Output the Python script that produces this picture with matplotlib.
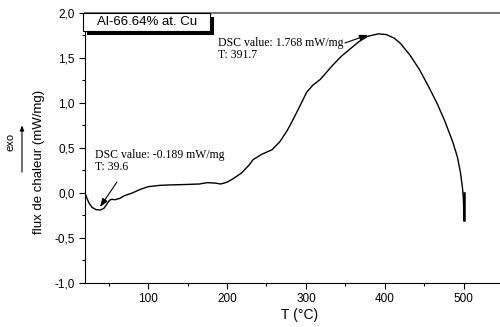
import matplotlib
matplotlib.use("Agg")
import matplotlib.pyplot as plt
from matplotlib.patches import Rectangle, FancyArrowPatch
from matplotlib.ticker import MultipleLocator, FuncFormatter

# DSC curve, Al-66.64% at. Cu
temperature = [20, 22, 25, 29, 34, 39.6, 44, 48, 51, 54, 58, 64, 70, 80, 90, 100,
               115, 130, 150, 165, 175, 185, 192, 200, 208, 218, 228, 233, 244,
               257, 267, 276, 284, 292, 301, 309, 318, 326, 334, 345, 356, 367,
               378, 391.7, 402, 412, 420, 432, 444, 455, 466, 476, 486, 492, 496,
               498.5, 499.5, 500, 500]
heat_flux = [0.0, -0.05, -0.11, -0.16, -0.185, -0.189, -0.17, -0.12, -0.08, -0.07,
             -0.075, -0.06, -0.03, 0.0, 0.04, 0.07, 0.085, 0.09, 0.095, 0.10,
             0.115, 0.11, 0.10, 0.12, 0.16, 0.22, 0.31, 0.37, 0.43, 0.48, 0.57,
             0.69, 0.82, 0.96, 1.12, 1.20, 1.26, 1.34, 1.42, 1.52, 1.60, 1.68,
             1.74, 1.768, 1.76, 1.72, 1.66, 1.53, 1.37, 1.19, 1.0, 0.80, 0.57,
             0.40, 0.22, 0.05, -0.05, -0.2, -0.3]

legend_label = "Al-66.64% at. Cu"
min_label = "DSC value: -0.189 mW/mg\nT: 39.6"
max_label = "DSC value: 1.768 mW/mg\nT: 391.7"

sans = "Liberation Sans"
serif = "Liberation Serif"

fig = plt.figure(figsize=(5, 3.27), dpi=100)
ax = fig.add_axes([0.17, 0.1346, 0.86, 0.8257])

ax.plot(temperature, heat_flux, color="black", lw=1.0)
ax.plot([500, 500], [0.0, -0.3], color="black", lw=1.8)

ax.set_xlim(20, 565)
ax.set_ylim(-1.0, 2.0)
ax.xaxis.set_major_locator(MultipleLocator(100))
ax.xaxis.set_minor_locator(MultipleLocator(50))
ax.yaxis.set_major_locator(MultipleLocator(0.5))
ax.yaxis.set_minor_locator(MultipleLocator(0.25))
ax.yaxis.set_major_formatter(FuncFormatter(lambda v, p: f"{v:.1f}".replace(".", ",")))
ax.tick_params(which="both", direction="out", width=0.8, labelsize=8.5)
ax.tick_params(which="major", length=4)
ax.tick_params(which="minor", length=2.5)
for lab in ax.get_xticklabels() + ax.get_yticklabels():
    lab.set_fontfamily(sans)

ax.spines["right"].set_visible(False)
ax.spines["top"].set_color("#777777")
ax.spines["top"].set_linewidth(1.5)

ax.set_xlabel("T (°C)", fontsize=10, fontfamily=sans, labelpad=2)
fig.text(0.078, 0.505, "flux de chaleur (mW/mg)", rotation=90, fontsize=9.5,
         fontfamily=sans, ha="center", va="center")
fig.text(0.022, 0.565, "exo", rotation=90, fontsize=8, fontfamily=sans,
         ha="center", va="center")
fig.patches.append(FancyArrowPatch(
    (0.044, 0.465), (0.044, 0.625), transform=fig.transFigure,
    arrowstyle="-|>,head_length=3,head_width=1.2", color="black", lw=0.8))

# legend box with drop shadow
fig.patches.append(Rectangle((0.174, 0.893), 0.254, 0.055, transform=fig.transFigure,
                             fc="black", ec="none", zorder=1))
fig.patches.append(Rectangle((0.166, 0.905), 0.254, 0.055, transform=fig.transFigure,
                             fc="white", ec="black", lw=0.8, zorder=2))
fig.text(0.194, 0.932, legend_label, fontsize=9.5, fontfamily=sans,
         ha="left", va="center", zorder=3)

# peak annotations
ax.text(32.7, 0.255, min_label, fontsize=8.5, fontfamily=serif,
        ha="left", va="baseline", linespacing=1.05)
ax.text(188.6, 1.5, max_label, fontsize=8.5, fontfamily=serif,
        ha="left", va="baseline", linespacing=1.05)
arrow_style = dict(arrowstyle="-|>,head_length=0.5,head_width=0.18",
                   color="black", lw=0.8, shrinkA=0, shrinkB=0)
ax.annotate("", xy=(39.0, -0.156), xytext=(60.5, 0.122), arrowprops=arrow_style)
ax.annotate("", xy=(378.7, 1.756), xytext=(349.5, 1.667), arrowprops=arrow_style)

fig.savefig("out.png", dpi=100)
